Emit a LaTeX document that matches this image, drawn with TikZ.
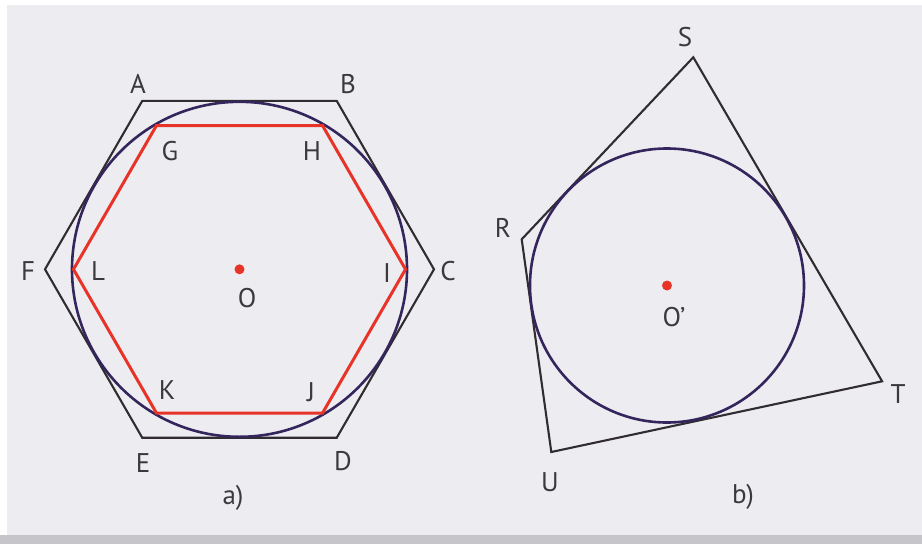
\documentclass[tikz,border=0pt]{standalone}
\usepackage{fontspec}
\setmainfont{PT Sans}
\definecolor{bgc}{RGB}{237,237,241}
\definecolor{stripc}{RGB}{198,198,202}
\definecolor{linec}{RGB}{48,44,48}
\definecolor{circc}{RGB}{52,38,92}
\definecolor{redc}{RGB}{232,52,40}
\definecolor{txtc}{RGB}{58,58,60}
\begin{document}
\begin{tikzpicture}[x=1pt,y=-1pt,
  poly/.style={draw=linec,line width=2.1pt,line join=miter},
  redpoly/.style={draw=redc,line width=3pt,line join=miter},
  incirc/.style={draw=circc,line width=2.6pt},
  lbl/.style={text=txtc,font=\fontsize{27}{30}\selectfont,inner sep=0pt},
  cdot/.style={fill=redc,draw=none}]
\useasboundingbox (0,0) rectangle (922,544);
\fill[white] (0,0) rectangle (922,544);
\fill[bgc] (7,5) rectangle (922,535);
\fill[stripc] (0,535) rectangle (922,544);
% ---- figure a)
\coordinate (O) at (239.5,269.3);
\coordinate (A) at (142.25,100.9);
\coordinate (B) at (336.75,100.9);
\coordinate (C) at (434,269.3);
\coordinate (D) at (336.75,437.7);
\coordinate (E) at (142.25,437.7);
\coordinate (F) at (45,269.3);
\coordinate (G) at (156.5,125.5);
\coordinate (H) at (322.5,125.5);
\coordinate (I) at (405.5,269.3);
\coordinate (J) at (322.5,413.1);
\coordinate (K) at (156.5,413.1);
\coordinate (L) at (73.5,269.3);
\draw[poly] (A) -- (B) -- (C) -- (D) -- (E) -- (F) -- cycle;
\draw[incirc] (O) circle[radius=167.5pt];
\draw[redpoly] (G) -- (H) -- (I) -- (J) -- (K) -- (L) -- cycle;
\fill[cdot] (O) circle[radius=5pt];
\node[lbl] (lA) at (138,84) {A};
\node[lbl] (lB) at (348,84) {B};
\node[lbl] (lC) at (448,271) {C};
\node[lbl] (lD) at (343,461) {D};
\node[lbl] (lE) at (143,463) {E};
\node[lbl] (lF) at (28,271) {F};
\node[lbl] (lG) at (170,151) {G};
\node[lbl] (lH) at (312,151) {H};
\node[lbl] (lI) at (387,273) {I};
\node[lbl] (lJ) at (311,392) {J};
\node[lbl] (lK) at (167,390) {K};
\node[lbl] (lL) at (98,271) {L};
\node[lbl] (lO) at (247,298) {O};
\node[lbl] (la) at (233,498) {a)};
% ---- figure b)
\coordinate (O2) at (667,285.5);
\coordinate (S) at (693.3,57.3);
\coordinate (R) at (521.7,239.3);
\coordinate (U) at (551.3,452);
\coordinate (T) at (882.1,381.3);
\draw[poly] (S) -- (R) -- (U) -- (T) -- cycle;
\draw[incirc] (O2) circle[radius=137pt];
\fill[cdot] (O2) circle[radius=5pt];
\node[lbl] (lS) at (685,37) {S};
\node[lbl] (lR) at (503,228) {R};
\node[lbl] (lT) at (898,394) {T};
\node[lbl] (lU) at (550,482) {U};
\node[lbl] (lO2) at (674,317) {O’};
\node[lbl] (lb) at (743,497) {b)};
\end{tikzpicture}
\end{document}
